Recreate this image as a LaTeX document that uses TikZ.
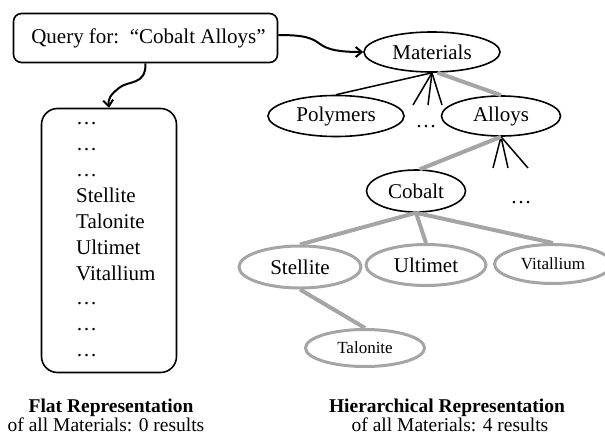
\documentclass[tikz,border=0pt]{standalone}
\usepackage{fontspec}
\setmainfont{Liberation Serif}
\usetikzlibrary{shapes.geometric,arrows.meta}
\definecolor{edgegray}{RGB}{165,165,165}
\tikzset{
 lbl/.style={font=\fontsize{21}{25}\selectfont},
 blk/.style={ellipse,draw=black,line width=1.6pt,fill=white,inner sep=0pt,lbl},
 gry/.style={ellipse,draw=edgegray,line width=3pt,fill=white,inner sep=0pt,lbl},
 blkedge/.style={black,line width=1.5pt},
 gryedge/.style={edgegray,line width=4pt},
 curly/.style={line width=2pt,-{Straight Barb[length=6pt,width=10pt]}},
 listline/.style={anchor=base west,inner sep=0pt,lbl},
 caption/.style={anchor=base,inner sep=0pt,font=\fontsize{19.5}{22}\selectfont},
}
\begin{document}
\begin{tikzpicture}[x=1pt,y=-1pt]
\useasboundingbox (0,0) rectangle (605,436);
% query box
\node[draw,line width=1.6pt,rounded corners=8pt,minimum width=264pt,minimum height=49pt,inner sep=0pt,lbl] (query) at (145.5,38) {\hspace{6pt}Query for:\ \ “Cobalt Alloys”};
% flat list
\node[draw,line width=1.6pt,rounded corners=16pt,minimum width=135pt,minimum height=264pt,inner sep=0pt] (list) at (109,240.5) {};
\foreach \i/\y/\t in {1/124/…,2/150/…,3/176/…,4/202/Stellite,5/228/Talonite,6/254/Ultimet,7/280/Vitallium,8/304/…,9/330/…,10/356/…}
  \node[listline] (l\i) at (76,\y) {\t};
% tree
\node[blk,minimum width=136pt,minimum height=40pt] (materials) at (432,52) {Materials};
\node[blk,minimum width=136pt,minimum height=41pt] (polymers) at (336,116) {Polymers};
\node[blk,minimum width=119pt,minimum height=40pt] (alloys) at (501,116) {Alloys};
\node[lbl,inner sep=0pt,anchor=base] (dotsa) at (426,127) {…};
\node[blk,minimum width=99pt,minimum height=42pt] (cobalt) at (416,191) {Cobalt};
\node[lbl,inner sep=0pt,anchor=base] (dotsb) at (521,203) {…};
\node[gry,minimum width=122pt,minimum height=42pt] (stellite) at (300,267) {Stellite};
\node[gry,minimum width=120pt,minimum height=41pt] (ultimet) at (426,265) {Ultimet};
\node[gry,minimum width=117pt,minimum height=39pt,font=\fontsize{17}{20}\selectfont] (vitallium) at (553,264) {Vitallium};
\node[gry,minimum width=119pt,minimum height=37pt,font=\fontsize{17}{20}\selectfont] (talonite) at (365,348) {Talonite};
% fan coordinates
\coordinate (ma) at (413,105);
\coordinate (mb) at (428,105);
\coordinate (mc) at (442,105);
\coordinate (aa) at (493,168);
\coordinate (ab) at (508,168);
\coordinate (ac) at (528,168);
% edges
\draw[blkedge] (materials.270) -- (polymers.north);
\foreach \c in {ma,mb,mc} \draw[blkedge] (materials.270) -- (\c);
\draw[gryedge] (materials.285) -- (alloys.north);
\foreach \c in {aa,ab,ac} \draw[blkedge] (alloys.south) -- (\c);
\draw[gryedge] (alloys.south) -- (cobalt.80);
\draw[gryedge] (cobalt.south) -- (stellite.north);
\draw[gryedge] (cobalt.south) -- (ultimet.north);
\draw[gryedge] (cobalt.south) -- (vitallium.north);
\draw[gryedge] (stellite.south) -- (talonite.north);
% curly arrows
\draw[curly] (query.south) .. controls (146,86) and (128,80) .. (119,88) .. controls (110,95) and (108,99) .. (list.north);
\draw[curly] (query.east) ++(0,-3) .. controls (305,35) and (312,38) .. (320,44) .. controls (328,50) and (340,52) .. (materials.west);
% captions
\node[caption,font=\bfseries\fontsize{19.5}{22}\selectfont] (flatcap) at (111,412) {Flat Representation};
\node[caption] (flatsub) at (106,431) {of all Materials: 0 results};
\node[caption,font=\bfseries\fontsize{19.5}{22}\selectfont] (hiercap) at (447,412) {Hierarchical Representation};
\node[caption] (hiersub) at (450,431) {of all Materials: 4 results};
\end{tikzpicture}
\end{document}
